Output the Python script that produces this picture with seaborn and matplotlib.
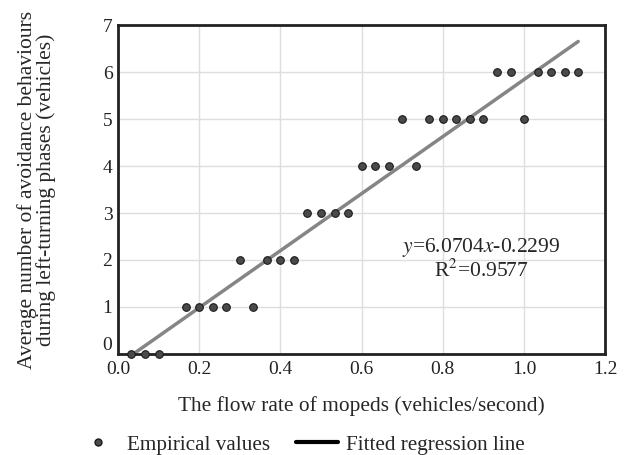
import matplotlib
matplotlib.use('Agg')
import matplotlib.pyplot as plt
import numpy as np
import pandas as pd
import seaborn as sns
from matplotlib.lines import Line2D

# flow rate of mopeds (vehicles/second) and avoidance counts
flow = np.array([1, 2, 3, 5, 6, 7, 8, 9, 10, 11, 12, 13, 14, 15, 16, 17,
                 18, 19, 20, 21, 22, 23, 24, 25, 26, 27, 28, 29, 30,
                 31, 32, 33, 34]) / 30
avoid = np.array([0, 0, 0, 1, 1, 1, 1, 2, 1, 2, 2, 2, 3, 3, 3, 3,
                  4, 4, 4, 5, 4, 5, 5, 5, 5, 5, 6, 6, 5,
                  6, 6, 6, 6])
slope = 6.0704
intercept = -0.2299
r2 = 0.9577

df = pd.DataFrame({'flow': flow, 'avoid': avoid})
x_fit = np.array([-intercept / slope, flow.max()])
fit_df = pd.DataFrame({'flow': x_fit, 'avoid': slope * x_fit + intercept})

sns.set_style('whitegrid')
plt.rcParams['font.family'] = ['Liberation Serif', 'DejaVu Serif']
plt.rcParams['mathtext.fontset'] = 'stix'

fig = plt.figure(figsize=(6.24, 4.55), dpi=100)
ax = fig.add_axes([0.189, 0.222, 0.781, 0.723])

sns.lineplot(data=fit_df, x='flow', y='avoid', ax=ax, color='#858585', linewidth=2.5, zorder=2)
sns.scatterplot(data=df, x='flow', y='avoid', ax=ax, color='#4a4a4a', edgecolor='#1a1a1a',
                s=30, linewidth=0.8, zorder=3, clip_on=False)

ax.set_xlim(0, 1.2)
ax.set_ylim(0, 7)
ax.set_xticks(np.arange(0, 1.21, 0.2))
ax.set_xticklabels(['{:.1f}'.format(v) for v in np.arange(0, 1.21, 0.2)])
ax.set_yticks(range(0, 8))
ax.grid(True, color='#dedede', linewidth=1)
ax.tick_params(length=0, labelsize=14, colors='#222222')
ax.tick_params(axis='x', pad=5)
ax.tick_params(axis='y', pad=4)
ax.get_yticklabels()[0].set_va('bottom')
for sp in ax.spines.values():
    sp.set_visible(True)
    sp.set_color('#222222')
    sp.set_linewidth(2)

ax.set_xlabel('The flow rate of mopeds (vehicles/second)', fontsize=15.4)
ax.xaxis.set_label_coords(0.5, -0.128)
ax.set_ylabel('Average number of avoidance behaviours\nduring left-turning phases (vehicles)',
              fontsize=15.5, linespacing=0.93)
ax.yaxis.set_label_coords(-0.128, 0.5)

ax.text(0.745, 0.325, r'$\mathit{y}$=6.0704$\mathit{x}$-0.2299', transform=ax.transAxes,
        ha='center', va='center', fontsize=15.5)
ax.text(0.745, 0.252, 'R$^2$=0.9577', transform=ax.transAxes,
        ha='center', va='center', fontsize=15.5)

handles = [Line2D([], [], marker='o', linestyle='none', color='#4a4a4a', markeredgecolor='#1a1a1a', markersize=5),
           Line2D([], [], color='black', linewidth=3)]
fig.legend(handles, ['Empirical values', 'Fitted regression line'], loc='center',
           bbox_to_anchor=(0.482, 0.022), ncol=2, frameon=False, fontsize=15.2,
           handlelength=2.0, columnspacing=1.2, handletextpad=0.4)

fig.savefig('out.png', dpi=100)
